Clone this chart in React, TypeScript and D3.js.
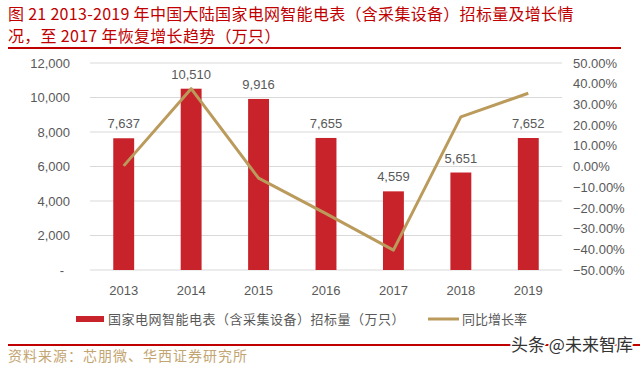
import React, { useEffect, useRef } from 'react'
import * as d3 from 'd3'

const years = ['2013', '2014', '2015', '2016', '2017', '2018', '2019']
const tenderVolume = [7637, 10510, 9916, 7655, 4559, 5651, 7652]
const yoyGrowth = [0.003, 0.376, -0.0565, -0.228, -0.404, 0.2395, 0.354]
const leftTicks = [0, 2000, 4000, 6000, 8000, 10000, 12000]
const rightTicks = [-0.5, -0.4, -0.3, -0.2, -0.1, 0, 0.1, 0.2, 0.3, 0.4, 0.5]

const titleLines = [
  '图 21 2013-2019 年中国大陆国家电网智能电表（含采集设备）招标量及增长情',
  '况，至 2017 年恢复增长趋势（万只）'
]
const barLegend = '国家电网智能电表（含采集设备）招标量（万只）'
const lineLegend = '同比增长率'
const sourceText = '资料来源：芯朋微、华西证券研究所'
const watermark = '头条 @未来智库'

const W = 640
const H = 368
const RED = '#c8222b'
const GOLD = '#bb9b5c'
const AXIS = '#595959'
const CJK = '"Noto Sans CJK SC", sans-serif'
const NUM = '"Liberation Sans", Arial, sans-serif'

const Chart = () => {
  const ref = useRef(null)
  const margin = { top: 63, right: 78, bottom: 98, left: 90 }

  useEffect(() => {
    const svg = d3.select(ref.current)
    svg.selectAll('*').remove()

    const x = d3.scaleBand()
      .domain(years)
      .range([margin.left, W - margin.right])
      .paddingInner(0.69)
      .paddingOuter(0.345)

    const y = d3.scaleLinear()
      .domain([0, 12000])
      .range([H - margin.bottom, margin.top])

    const y2 = d3.scaleLinear()
      .domain([-0.5, 0.5])
      .range([H - margin.bottom, margin.top])

    svg.append('rect').attr('width', W).attr('height', H).attr('fill', '#fff')

    // title
    svg.append('g')
      .selectAll('text')
      .data(titleLines)
      .join('text')
      .attr('x', 8)
      .attr('y', (d, i) => 20 + i * 22)
      .attr('fill', '#c00000')
      .attr('font-family', CJK)
      .attr('font-size', 16)
      .attr('letter-spacing', 0.3)
      .text(d => d)

    svg.append('line')
      .attr('x1', 8).attr('x2', 621)
      .attr('y1', 48).attr('y2', 48)
      .attr('stroke', '#c00000')
      .attr('stroke-width', 2)

    // gridlines
    svg.append('g')
      .selectAll('line')
      .data(leftTicks)
      .join('line')
      .attr('x1', margin.left)
      .attr('x2', W - margin.right)
      .attr('y1', d => y(d))
      .attr('y2', d => y(d))
      .attr('stroke', '#d9d9d9')
      .attr('stroke-width', 1)

    const yAxis = g => g
      .attr('transform', `translate(${margin.left - 17},0)`)
      .call(d3.axisLeft(y).tickValues(leftTicks).tickSize(0)
        .tickFormat(d => d === 0 ? '-' : d3.format(',')(d)))
      .call(g => g.select('.domain').remove())
      .call(g => g.selectAll('text')
        .attr('fill', AXIS)
        .attr('font-family', NUM)
        .attr('font-size', 13)
        .attr('dx', d => d === 0 ? -6 : 0))

    const y2Axis = g => g
      .attr('transform', `translate(${W - margin.right + 11},0)`)
      .call(d3.axisRight(y2).tickValues(rightTicks).tickSize(0)
        .tickFormat(d3.format('.2%')))
      .call(g => g.select('.domain').remove())
      .call(g => g.selectAll('text')
        .attr('fill', AXIS)
        .attr('font-family', NUM)
        .attr('font-size', 13)
        .attr('x', 0))

    const xAxis = g => g
      .attr('transform', `translate(0,${H - margin.bottom + 13})`)
      .call(d3.axisBottom(x).tickSize(0))
      .call(g => g.select('.domain').remove())
      .call(g => g.selectAll('text')
        .attr('fill', AXIS)
        .attr('font-family', NUM)
        .attr('font-size', 13))

    svg.append('g').call(yAxis)
    svg.append('g').call(y2Axis)
    svg.append('g').call(xAxis)

    // bars
    const rows = years.map((d, i) => ({ year: d, value: tenderVolume[i], growth: yoyGrowth[i] }))

    svg.append('g')
      .selectAll('rect')
      .data(rows)
      .join('rect')
      .attr('x', d => x(d.year))
      .attr('y', d => y(d.value))
      .attr('width', x.bandwidth())
      .attr('height', d => y(0) - y(d.value))
      .attr('fill', RED)

    // line
    const line = d3.line()
      .x(d => x(d.year) + x.bandwidth() / 2)
      .y(d => y2(d.growth))

    svg.append('path')
      .datum(rows)
      .attr('d', line)
      .attr('fill', 'none')
      .attr('stroke', GOLD)
      .attr('stroke-width', 3)
      .attr('stroke-linejoin', 'round')

    // bar labels
    svg.append('g')
      .selectAll('text')
      .data(rows)
      .join('text')
      .attr('x', d => x(d.year) + x.bandwidth() / 2)
      .attr('y', d => y(d.value) - 10)
      .attr('text-anchor', 'middle')
      .attr('fill', AXIS)
      .attr('font-family', NUM)
      .attr('font-size', 13)
      .text(d => d3.format(',')(d.value))

    // legend
    const legend = svg.append('g').attr('transform', 'translate(0,319)')
    legend.append('rect')
      .attr('x', 76).attr('y', -3).attr('width', 28).attr('height', 6)
      .attr('fill', RED)
    legend.append('text')
      .attr('x', 108).attr('y', 5)
      .attr('fill', AXIS)
      .attr('font-family', CJK)
      .attr('font-size', 13)
      .attr('letter-spacing', 0.5)
      .text(barLegend)
    legend.append('line')
      .attr('x1', 428).attr('x2', 459).attr('y1', 0).attr('y2', 0)
      .attr('stroke', GOLD).attr('stroke-width', 3)
    legend.append('text')
      .attr('x', 462).attr('y', 5)
      .attr('fill', AXIS)
      .attr('font-family', CJK)
      .attr('font-size', 13)
      .text(lineLegend)

    // footer
    svg.append('line')
      .attr('x1', 8).attr('x2', 640)
      .attr('y1', 345).attr('y2', 345)
      .attr('stroke', '#c00000')
      .attr('stroke-width', 2)

    svg.append('text')
      .attr('x', 8).attr('y', 361)
      .attr('fill', '#c3a571')
      .attr('font-family', CJK)
      .attr('font-size', 14)
      .attr('letter-spacing', 1)
      .text(sourceText)

    svg.append('text')
      .attr('x', 511).attr('y', 351)
      .attr('fill', '#333')
      .attr('stroke', '#fff')
      .attr('stroke-width', 3)
      .attr('paint-order', 'stroke')
      .attr('font-family', CJK)
      .attr('font-size', 17)
      .text(watermark)
  }, [])

  return (
    <svg width={W} height={H} ref={ref} style={{ position: 'absolute', left: 0, top: 0 }} />
  )
}

const App = () => <Chart />

export default App
